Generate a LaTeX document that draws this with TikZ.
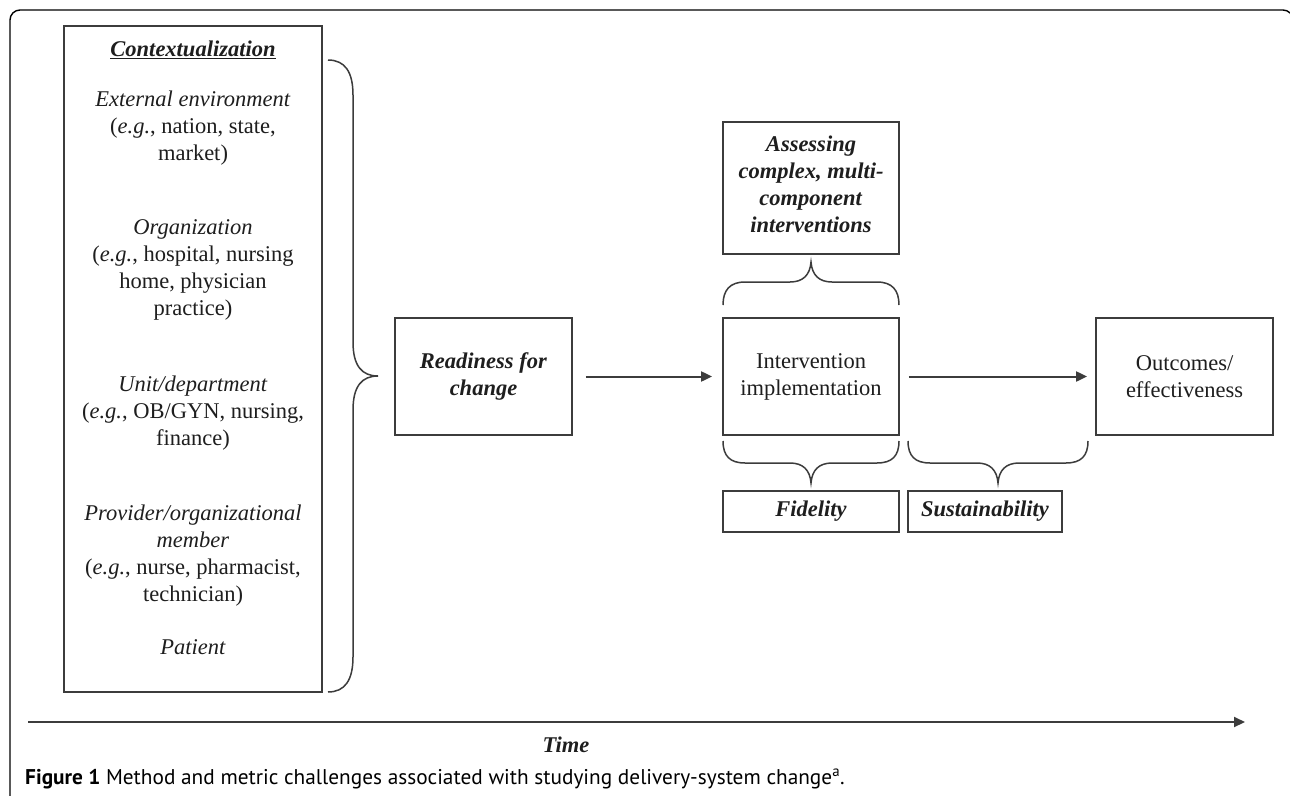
\documentclass[tikz,border=0pt]{standalone}
\usepackage{fontspec}
\setmainfont{Liberation Serif}
\newfontfamily\capfont{PT Sans}
\usetikzlibrary{arrows.meta}
\definecolor{linec}{HTML}{3C3C3C}
\definecolor{textc}{HTML}{1E1E1E}
\begin{document}
\begin{tikzpicture}[x=1pt,y=-1pt,
  box/.style={draw=linec, line width=1.8pt, inner sep=0pt, align=center, text=textc,
    font=\fontsize{22.5}{27}\selectfont},
  txt/.style={inner sep=0pt, align=center, text=textc, font=\fontsize{22.5}{27}\selectfont},
  brc/.style={draw=linec, line width=1.5pt},
  arr/.style={draw=linec, line width=2pt, -{Triangle[length=11pt,width=10pt]}},
  frame/.style={draw=black, line width=1.4pt, rounded corners=10pt}]
\useasboundingbox (0,0) rectangle (1290,795);
\fill[white] (0,0) rectangle (1290,795);
% outer frame
\draw[frame] (10,800) -- (10,10) -- (1293,10) -- (1293,800);
% context box
\node[box, minimum width=258pt, minimum height=666pt] (ctx) at (193,359) {};
\node[txt] (ctitle) at (193,50) {\textbf{\textit{\underline{Contextualization}}}};
\node[txt] (ext) at (193,128) {\textit{External environment}\\(\textit{e.g.}, nation, state,\\market)};
\node[txt] (org) at (193,270) {\textit{Organization}\\(\textit{e.g.}, hospital, nursing\\home, physician\\practice)};
\node[txt] (unit) at (193,413) {\textit{Unit/department}\\(\textit{e.g.}, OB/GYN, nursing,\\finance)};
\node[txt] (prov) at (193,556) {\textit{Provider/organizational}\\\textit{member}\\(\textit{e.g.}, nurse, pharmacist,\\technician)};
\node[txt] (pat) at (193,647) {\textit{Patient}};
% big brace
\draw[brc] (328,60) .. controls (345,60) and (353,72) .. (353,95) -- (353,342)
  .. controls (353,366) and (362,376) .. (378,376)
  .. controls (362,376) and (353,386) .. (353,410) -- (353,657)
  .. controls (353,680) and (345,692) .. (328,692);
% main boxes
\node[box, minimum width=177pt, minimum height=117pt] (ready) at (483.5,376.5) {\textbf{\textit{Readiness for}}\\\textbf{\textit{change}}};
\node[box, minimum width=176pt, minimum height=117pt] (int) at (811,376.5) {Intervention\\implementation};
\node[box, minimum width=177pt, minimum height=117pt] (out) at (1184.5,376.5) {Outcomes/\\effectiveness};
\node[box, minimum width=176pt, minimum height=132pt] (assess) at (811,188) {};
\node[txt] (assesst) at (811,184) {\textbf{\textit{Assessing}}\\\textbf{\textit{complex, multi-}}\\\textbf{\textit{component}}\\\textbf{\textit{interventions}}};
\node[box, minimum width=176pt, minimum height=41pt] (fid) at (811,511.5) {\textbf{\textit{Fidelity}}};
\node[box, minimum width=154pt, minimum height=41pt] (sus) at (985,511.5) {\textbf{\textit{Sustainability}}};
% arrows
\draw[arr, shorten <=13pt, shorten >=10pt] (ready) -- (int);
\draw[arr, shorten <=9pt, shorten >=8pt] (int) -- (out);
% top brace (to assessing)
\draw[brc] (723,305) .. controls (723,290) and (730,282) .. (745,282) -- (790,282)
  .. controls (803,282) and (810,275) .. (811,262)
  .. controls (812,275) and (819,282) .. (832,282) -- (877,282)
  .. controls (892,282) and (899,290) .. (899,305);
% bottom brace (fidelity)
\draw[brc] (723,441) .. controls (723,456) and (730,463) .. (745,463) -- (790,463)
  .. controls (803,463) and (810,470) .. (811,483)
  .. controls (812,470) and (819,463) .. (832,463) -- (877,463)
  .. controls (892,463) and (899,456) .. (899,441);
% bottom brace (sustainability)
\draw[brc] (908,441) .. controls (908,456) and (915,463) .. (930,463) -- (977,463)
  .. controls (990,463) and (997,470) .. (998,483)
  .. controls (999,470) and (1006,463) .. (1019,463) -- (1066,463)
  .. controls (1081,463) and (1088,456) .. (1088,441);
% time axis
\coordinate (t0) at (28,722);
\coordinate (t1) at (1245,722);
\draw[arr] (t0) -- (t1);
\node[txt] (time) at (566,745) {\textbf{\textit{Time}}};
% caption
\node[anchor=west, inner sep=0pt, text=black, font=\capfont\fontsize{21.3}{24}\selectfont] (cap) at (25,779)
  {\textbf{Figure 1} Method and metric challenges associated with studying delivery-system change\textsuperscript{a}.};
\end{tikzpicture}
\end{document}
